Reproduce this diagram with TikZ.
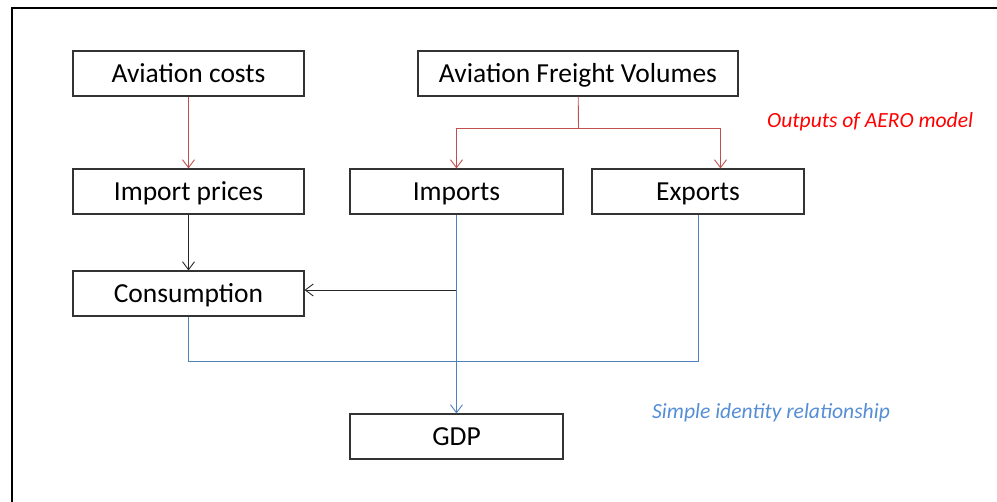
\documentclass[tikz,border=0pt]{standalone}
\usepackage{fontspec}
\setmainfont{Carlito}
\usetikzlibrary{arrows.meta}
\definecolor{linered}{RGB}{192,80,77}
\definecolor{lineblue}{RGB}{79,129,189}
\definecolor{textblue}{RGB}{85,142,213}
\newcommand{\boxfont}{\fontsize{27.5}{33}\selectfont}
\newcommand{\notefont}{\fontsize{21.6}{26}\selectfont\itshape}

\begin{document}
\begin{tikzpicture}[x=1pt,y=-1pt,
  box/.style={draw=black!80,line width=1.1pt,minimum width=231pt,minimum height=45pt,inner sep=0pt,text height=18pt,text depth=0pt,font=\boxfont},
  conn/.style={line width=0.9pt},
  tip/.style={-{Straight Barb[length=8pt,width=12pt,line width=0.9pt]}}]
\useasboundingbox (0,0) rectangle (997,502);
%\fill[white] (0,0) rectangle (997,502);
\draw[line width=2pt] (11.5,502) -- (11.5,8) -- (997,8);
\node(avcost) at (188.5,73.5)[box] {Aviation costs};
\node(afv) at (578,73.5)[box,minimum width=320pt] {Aviation Freight Volumes};
\node(impprice) at (188.5,191.5)[box] {Import prices};
\node(imports) at (456.5,191.5)[box,minimum width=213pt] {Imports};
\node(exports) at (698,191.5)[box,minimum width=212pt] {Exports};
\node(consum) at (188.5,293.5)[box] {Consumption};
\node(gdp) at (456.5,436.5)[box,minimum width=213pt] {GDP};
\node(outnote) at (767,128)[anchor=base west,inner sep=0pt,text=red,font=\notefont] {Outputs of AERO model};
\node(idnote) at (652,419)[anchor=base west,inner sep=0pt,text=textblue,font=\notefont] {Simple identity relationship};
\coordinate(split) at (578.5,128);
\coordinate(tap) at (456.5,290);
\coordinate(low) at (698,361);
% red: model outputs
\draw[conn,linered,tip] (avcost) -- (impprice);
\draw[conn,linered] (afv) -- (split);
\draw[conn,linered,tip] (split) -| (imports);
\draw[conn,linered,tip] (split) -| ([xshift=22.5pt]exports.north);
% black
\draw[conn,black!85,tip] (impprice) -- (consum);
\draw[conn,black!85,tip] (tap) -- (tap -| consum.east);
% blue: identity
\draw[conn,lineblue,tip] (imports) -- (gdp);
\draw[conn,lineblue] (consum.south) |- (low) -- (exports.south);
\end{tikzpicture}
\end{document}
